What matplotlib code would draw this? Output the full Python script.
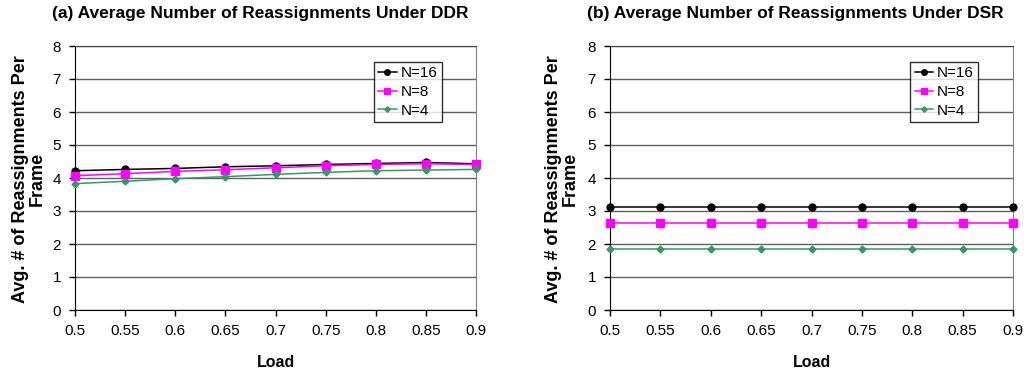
import numpy as np
import matplotlib.pyplot as plt

plt.rcParams['font.family'] = ['Liberation Sans', 'DejaVu Sans']

# datos
load = [0.5, 0.55, 0.6, 0.65, 0.7, 0.75, 0.8, 0.85, 0.9]
load_labels = ['0.5', '0.55', '0.6', '0.65', '0.7', '0.75', '0.8', '0.85', '0.9']

ddr_n16 = [4.22, 4.26, 4.29, 4.34, 4.37, 4.41, 4.44, 4.47, 4.43]
ddr_n8 = [4.07, 4.13, 4.20, 4.25, 4.31, 4.37, 4.41, 4.43, 4.41]
ddr_n4 = [3.83, 3.90, 3.98, 4.04, 4.11, 4.17, 4.22, 4.24, 4.26]

dsr_n16 = [3.12, 3.12, 3.12, 3.12, 3.12, 3.12, 3.12, 3.12, 3.12]
dsr_n8 = [2.63, 2.63, 2.63, 2.63, 2.63, 2.63, 2.63, 2.63, 2.63]
dsr_n4 = [1.85, 1.85, 1.85, 1.85, 1.85, 1.85, 1.85, 1.85, 1.85]

titles = ['(a) Average Number of Reassignments Under DDR',
          '(b) Average Number of Reassignments Under DSR']

series = [(ddr_n16, ddr_n8, ddr_n4), (dsr_n16, dsr_n8, dsr_n4)]
nombres = ['N=16', 'N=8', 'N=4']
colores = ['black', '#FF00FF', '#339966']
marcas = ['o', 's', 'D']
tam = [5, 5.5, 3.5]

fig = plt.figure(figsize=(10.28, 3.75), dpi=100)
posiciones = [[75/1028, 1-310/375, 401/1028, 264/375],
              [610/1028, 1-310/375, 403/1028, 264/375]]
titulo_x = [260/1028, 795/1028]
ylabel_x = [29/1028, 562/1028]

for k in range(2):
    ax = fig.add_axes(posiciones[k])
    for s, nom, c, m, t in zip(series[k], nombres, colores, marcas, tam):
        ax.plot(load, s, color=c, marker=m, markersize=t, linewidth=1.1,
                label=nom, clip_on=False, zorder=3)
    ax.set_xlim(0.5, 0.9)
    ax.set_ylim(0, 8)
    ax.set_xticks(load)
    ax.set_xticklabels(load_labels)
    ax.set_yticks(range(9))
    ax.yaxis.grid(True, color='#606060', linewidth=1)
    ax.set_axisbelow(True)
    ax.tick_params(axis='both', labelsize=11, direction='out', length=4,
                   width=1, color='black', pad=6)
    ax.spines['left'].set_color('black')
    ax.spines['bottom'].set_color('black')
    ax.spines['top'].set_color('#404040')
    ax.spines['right'].set_color('#808080')
    ax.set_xlabel('Load', fontsize=11.5, fontweight='bold', labelpad=12)
    fig.text(ylabel_x[k], 0.522, 'Avg. # of Reassignments Per\nFrame',
             rotation=90, ha='center', va='center', fontsize=13,
             fontweight='bold', linespacing=1.0)
    fig.text(titulo_x[k], 0.963, titles[k], ha='center', va='center',
             fontsize=12.5, fontweight='bold')
    leg = ax.legend(loc='upper left', bbox_to_anchor=(0.745, 0.94),
                    fontsize=11, frameon=True, fancybox=False,
                    handlelength=1.2, handletextpad=0.25, borderpad=0.3,
                    labelspacing=0.3, borderaxespad=0, markerscale=0.8)
    leg.get_frame().set_edgecolor('black')
    leg.get_frame().set_linewidth(1)

fig.savefig('out.png', dpi=100)
